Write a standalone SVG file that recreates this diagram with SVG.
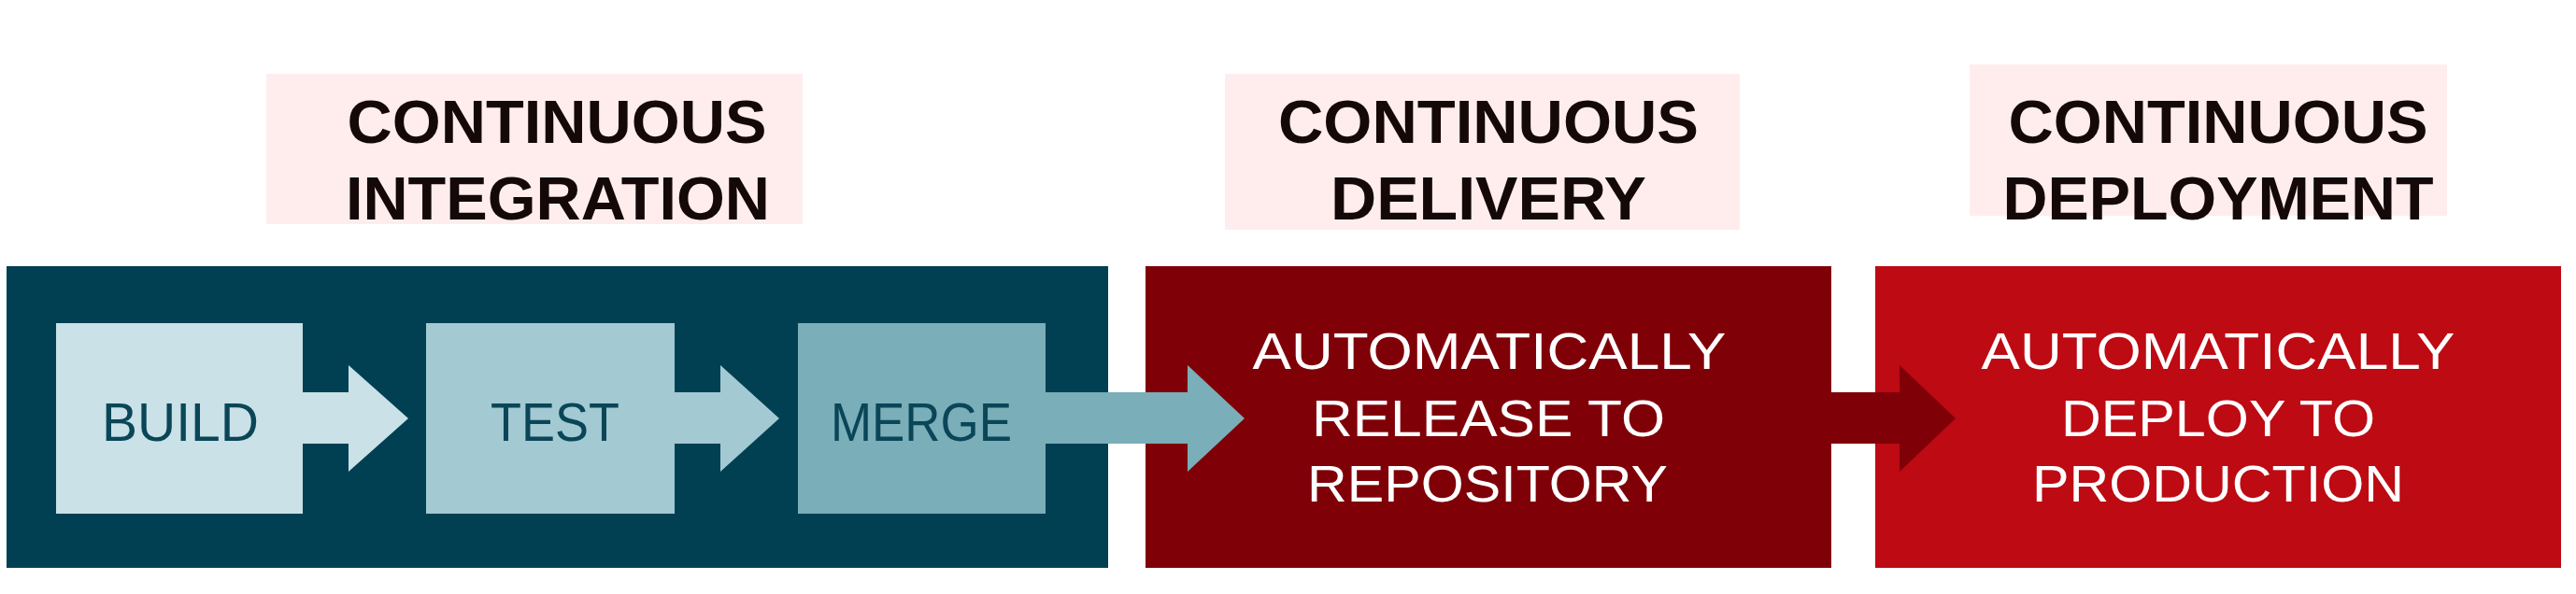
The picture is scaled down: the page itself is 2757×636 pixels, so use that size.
<svg xmlns="http://www.w3.org/2000/svg" width="2757" height="636" viewBox="0 0 2757 636">
<style>
.lbg{fill:#ffeded}
.title{font-family:"Liberation Sans",Arial,sans-serif;font-weight:bold;font-size:65px;fill:#150808;text-anchor:middle}
.step{font-family:"Liberation Sans",Arial,sans-serif;font-size:58px;fill:#0a4657;text-anchor:middle}
.wt{font-family:"Liberation Sans",Arial,sans-serif;font-size:56px;fill:#ffffff;text-anchor:middle}
</style>
<rect width="2757" height="636" fill="#ffffff"/>
<g id="label-ci">
<rect class="lbg" x="285" y="79" width="574" height="161"/>
<text class="title" x="596" y="153" textLength="449" lengthAdjust="spacingAndGlyphs">CONTINUOUS</text>
<text class="title" x="597" y="235" textLength="454" lengthAdjust="spacingAndGlyphs">INTEGRATION</text>
</g>
<g id="label-cd">
<rect class="lbg" x="1311" y="79" width="551" height="167"/>
<text class="title" x="1593" y="153" textLength="450" lengthAdjust="spacingAndGlyphs">CONTINUOUS</text>
<text class="title" x="1593" y="235" textLength="338" lengthAdjust="spacingAndGlyphs">DELIVERY</text>
</g>
<g id="label-cdep">
<rect class="lbg" x="2108" y="69" width="511" height="162"/>
<text class="title" x="2374" y="153" textLength="449" lengthAdjust="spacingAndGlyphs">CONTINUOUS</text>
<text class="title" x="2374" y="235" textLength="461" lengthAdjust="spacingAndGlyphs">DEPLOYMENT</text>
</g>
<g id="stage-ci">
<rect x="7" y="285" width="1179" height="323" fill="#004052"/>
</g>
<g id="node-build">
<rect x="60" y="346" width="264" height="204" fill="#c9e1e7"/>
</g>
<g id="node-test">
<rect x="456" y="346" width="266" height="204" fill="#a3c9d3"/>
</g>
<g id="node-merge">
<rect x="854" y="346" width="265" height="204" fill="#7aaeb9"/>
</g>
<g id="node-release">
<rect x="1226" y="285" width="734" height="323" fill="#800008"/>
</g>
<g id="node-deploy">
<rect x="2007" y="285" width="734" height="323" fill="#bd0a13"/>
</g>
<g id="connectors">
<polygon points="323,420 373,420 373,391 437,448 373,505 373,475 323,475" fill="#c9e1e7"/>
<polygon points="721,420 771,420 771,391 834,448 771,505 771,475 721,475" fill="#a3c9d3"/>
<polygon points="1118,420 1271,420 1271,391 1332,448 1271,505 1271,475 1118,475" fill="#7aaeb9"/>
<polygon points="1959,420 2033,420 2033,391 2093,448 2033,505 2033,475 1959,475" fill="#800008"/>
</g>
<g id="texts">
<text class="step" x="193" y="472" textLength="168" lengthAdjust="spacingAndGlyphs">BUILD</text>
<text class="step" x="594" y="472" textLength="138" lengthAdjust="spacingAndGlyphs">TEST</text>
<text class="step" x="986" y="472" textLength="194" lengthAdjust="spacingAndGlyphs">MERGE</text>
<text class="wt" x="1594" y="395" textLength="507" lengthAdjust="spacingAndGlyphs">AUTOMATICALLY</text>
<text class="wt" x="1593" y="467" textLength="378" lengthAdjust="spacingAndGlyphs">RELEASE TO</text>
<text class="wt" x="1592" y="537" textLength="386" lengthAdjust="spacingAndGlyphs">REPOSITORY</text>
<text class="wt" x="2374" y="395" textLength="507" lengthAdjust="spacingAndGlyphs">AUTOMATICALLY</text>
<text class="wt" x="2374" y="467" textLength="336" lengthAdjust="spacingAndGlyphs">DEPLOY TO</text>
<text class="wt" x="2374" y="537" textLength="398" lengthAdjust="spacingAndGlyphs">PRODUCTION</text>
</g>
</svg>
